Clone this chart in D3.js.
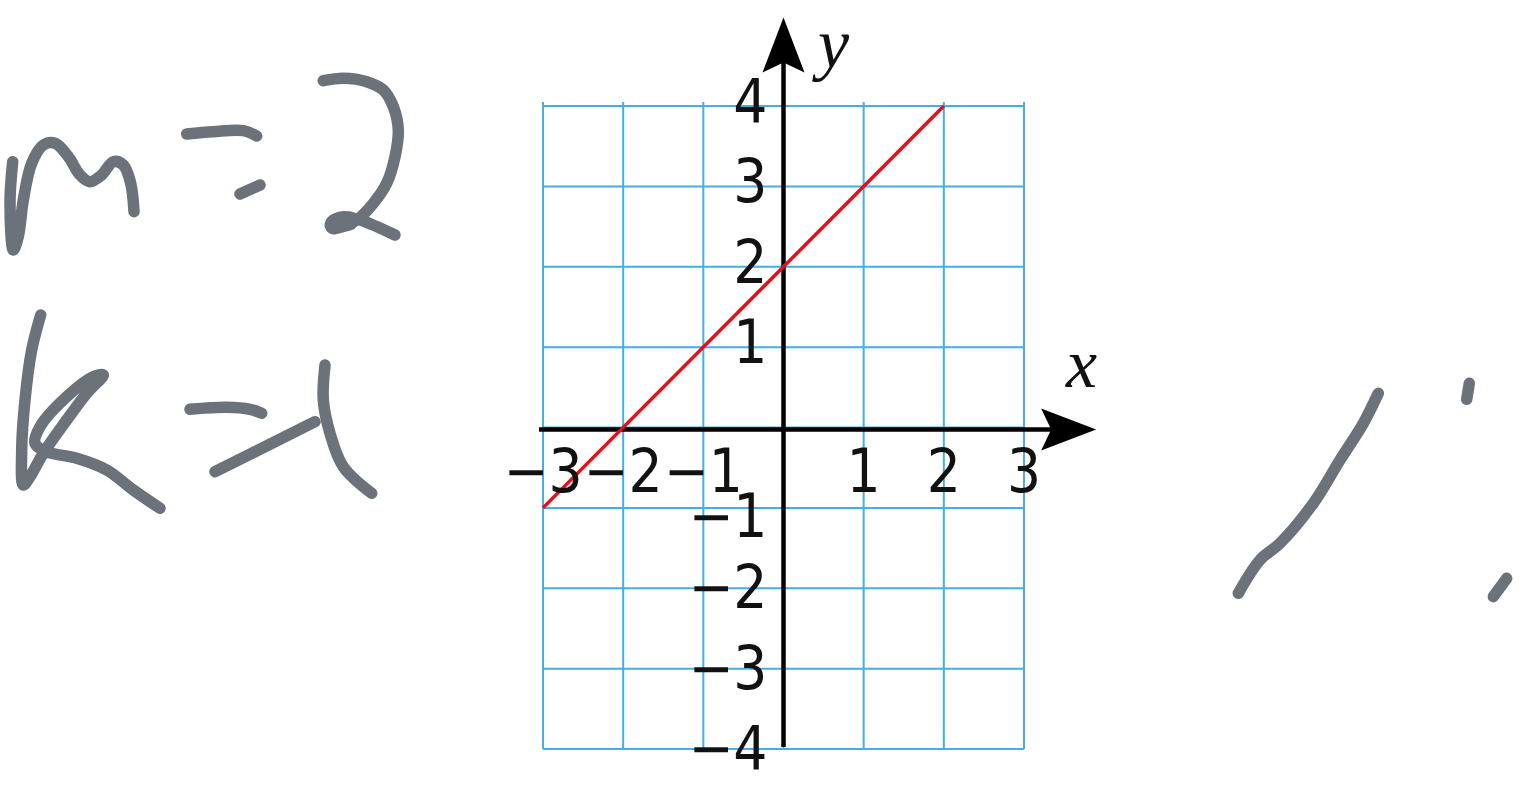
<!DOCTYPE html>
<html>
<head>
<meta charset="utf-8">
<script src="https://cdn.jsdelivr.net/npm/d3@7"></script>
<style>
  html, body { margin: 0; padding: 0; background: #ffffff; }
  svg { display: block; }
</style>
</head>
<body>
<script>
// ---- data ----
const xTicks = [-3, -2, -1, 1, 2, 3];
const yTicks = [4, 3, 2, 1, -1, -2, -3, -4];
const gridX = [-3, -2, -1, 0, 1, 2, 3];
const gridY = [-4, -3, -2, -1, 0, 1, 2, 3, 4];
const lineX = [-3, 2];          // red line y = x + 2
const lineY = [-1, 4];
const xAxisLabel = "x";
const yAxisLabel = "y";
const noteLines = ["m=2", "k=1"]; // handwritten note

// handwritten ink strokes (page pixels)
const inkStrokes = [
  // m
  [[12.7,161.7],[10,203],[13.3,250],[18.3,236.7],[23.3,200],[31.7,163.3],[43.3,145],[55,143.3],[68.3,156.7],[80,175],[90,181.7],[101.7,175],[113.3,161.7],[123.3,165],[130.7,183.3],[134,211.7]],
  // = (top)
  [[186.7,134],[213.3,131.7],[243.3,130.7],[256.7,136]],
  // = (bottom)
  [[240,194],[260,185]],
  // 2
  [[323.3,80.7],[343.3,78.3],[366.7,81.7],[383.3,90],[393.3,106.7],[398.3,130],[395,156.7],[386.7,183.3],[373.3,203.3],[356.7,220],[343.3,225],[333.3,226.7],[331.7,221.7],[343.3,216.7],[360,220],[395,235]],
  // k
  [[40.7,315],[31.7,350],[25,400],[21.7,450],[23.3,485],[30,476.7],[43.3,453.3],[66.7,420],[86.7,393.3],[103.3,375],[93.3,376.7],[66.7,396.7],[40,426.7],[35,443.3],[46.7,451.7],[76.7,458.3],[106.7,470],[133.3,490],[160,508.3]],
  // = (top)
  [[190,409.3],[226.7,407.3],[250,409.3],[261.7,413.3]],
  // = (bottom, slanted)
  [[215,471.7],[315,421.7]],
  // 1
  [[325,365],[323.3,400],[330,433.3],[343.3,466.7],[371.7,493.3]],
  // right-side strokes
  [[1378.3,393.3],[1363.3,423.3],[1340,460],[1313.3,503.3],[1280,543.3],[1260,560],[1238.3,593.3]],
  [[1469.3,383.3],[1466.7,399.3]],
  [[1506.7,578.3],[1493.3,596.7]]
];
const inkBlobs = [[[334,225],[349,221]]]; // pen blob at the foot of the "2"

// ---- drawing ----
const W = 1520, H = 800;
const svg = d3.select("body").append("svg").attr("width", W).attr("height", H);
svg.append("rect").attr("width", W).attr("height", H).attr("fill", "#ffffff");

const x = d3.scaleLinear().domain([-3, 3]).range([543, 1024]);
const y = d3.scaleLinear().domain([-4, 4]).range([749, 106]);

const gridColor = "#45ade7";
const g = svg.append("g");

// grid
g.selectAll("line.gv").data(gridX).join("line")
  .attr("class", "gv")
  .attr("x1", d => x(d)).attr("x2", d => x(d))
  .attr("y1", y(4) - 4).attr("y2", y(-4))
  .attr("stroke", gridColor).attr("stroke-width", 2);
g.selectAll("line.gh").data(gridY).join("line")
  .attr("class", "gh")
  .attr("y1", d => y(d)).attr("y2", d => y(d))
  .attr("x1", x(-3)).attr("x2", x(3))
  .attr("stroke", gridColor).attr("stroke-width", 2);

// axes
const axisColor = "#000000";
const x0 = x(0), y0 = y(0) + 2;
g.append("line").attr("x1", x(-3) - 4).attr("x2", x(3.75)).attr("y1", y0).attr("y2", y0)
  .attr("stroke", axisColor).attr("stroke-width", 4.5);
g.append("line").attr("x1", x0).attr("x2", x0).attr("y1", y(-4) - 2).attr("y2", y(4.6))
  .attr("stroke", axisColor).attr("stroke-width", 4.5);

// arrowheads
const arrow = "M0,0 L-55,-21 L-45,0 L-55,21 Z";
g.append("path").attr("d", arrow)
  .attr("transform", `translate(${x(3.9)},${y0})`).attr("fill", axisColor);
g.append("path").attr("d", arrow)
  .attr("transform", `translate(${x0},${y(5.1)}) rotate(-90)`).attr("fill", axisColor);

// red line
const lineData = lineX.map((v, i) => [v, lineY[i]]);
g.append("path").datum(lineData)
  .attr("d", d3.line().x(d => x(d[0])).y(d => y(d[1])))
  .attr("fill", "none").attr("stroke", "#e3101c").attr("stroke-width", 3.5);

// tick labels
const fmt = v => (v < 0 ? "\u2212" + Math.abs(v) : String(v));
const tickFont = "'DejaVu Sans', sans-serif";
const tickSize = 61, squeeze = 0.88;
g.selectAll("text.xt").data(xTicks).join("text")
  .attr("class", "xt")
  .attr("transform", d => `translate(${x(d)},${y0 + 62}) scale(${squeeze},1)`)
  .attr("text-anchor", "middle")
  .attr("font-family", tickFont).attr("font-size", tickSize)
  .attr("fill", "#111").text(fmt);
g.selectAll("text.yt").data(yTicks).join("text")
  .attr("class", "yt")
  .attr("transform", d => `translate(${x0 - 16},${y(d) + (d > 0 ? 16 : (d === -1 ? 29 : 20))}) scale(${squeeze},1)`)
  .attr("text-anchor", "end")
  .attr("font-family", tickFont).attr("font-size", tickSize)
  .attr("fill", "#111").text(fmt);

// axis labels
g.append("text").attr("x", 1066).attr("y", 387)
  .attr("font-family", "'Liberation Serif', serif").attr("font-style", "italic")
  .attr("font-size", 70).attr("fill", "#111").text(xAxisLabel);
g.append("text").attr("x", 818).attr("y", 67)
  .attr("font-family", "'Liberation Serif', serif").attr("font-style", "italic")
  .attr("font-size", 70).attr("fill", "#111").text(yAxisLabel);

// handwriting
const ink = svg.append("g").attr("aria-label", noteLines.join(" "));
ink.append("title").text(noteLines.join(", "));
const inkColor = "#6b7279";
ink.selectAll("path.stroke").data(inkStrokes).join("path")
  .attr("class", "stroke")
  .attr("d", d3.line().curve(d3.curveCatmullRom.alpha(0.5)))
  .attr("fill", "none").attr("stroke", inkColor).attr("stroke-width", 11.5)
  .attr("stroke-linecap", "round").attr("stroke-linejoin", "round");
ink.selectAll("path.blob").data(inkBlobs).join("path")
  .attr("class", "blob")
  .attr("d", d3.line())
  .attr("fill", "none").attr("stroke", inkColor).attr("stroke-width", 19)
  .attr("stroke-linecap", "round");
</script>
</body>
</html>
